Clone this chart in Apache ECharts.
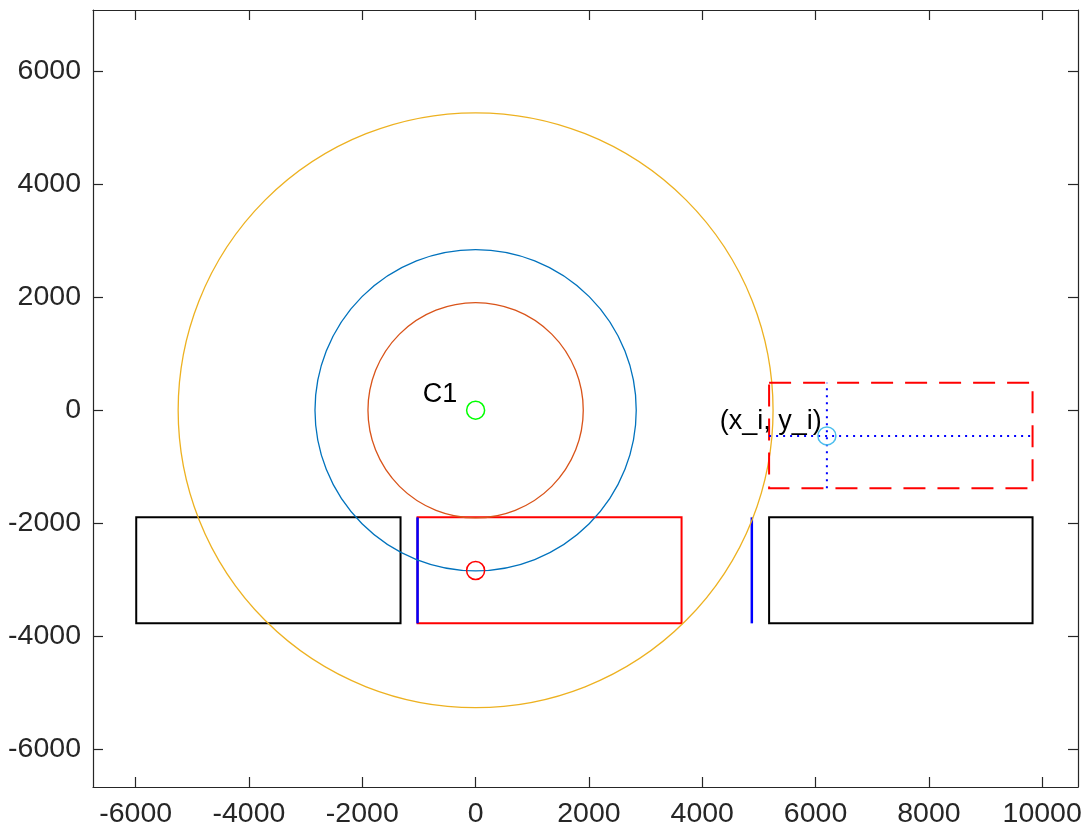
<!DOCTYPE html>
<html>
<head>
<meta charset="utf-8">
<script src="https://cdn.jsdelivr.net/npm/echarts@6/dist/echarts.min.js"></script>
<style>
  html, body { margin: 0; padding: 0; background: #ffffff; }
  #chart { width: 1090px; height: 829px; }
</style>
</head>
<body>
<div id="chart"></div>
<script>
// Axis ticks and visible window (equal scaling on both axes)
const xTicks = [-6000, -4000, -2000, 0, 2000, 4000, 6000, 8000, 10000];
const yTicks = [-6000, -4000, -2000, 0, 2000, 4000, 6000];
const xRange = [-6753, 10632];
const yRange = [-6665, 7080];

// Rings around C1
const c1 = [0, 0];
const ringRadii = [5250, 2835, 1900];
const lowPoint = [0, -2835];

// Point of interest and its search box
const pointI = [6200, -455];
const boxX = [5180, 9830];
const boxY = [-1380, 485];

// Blocks along the lower row
const blockY = [-3770, -1895];
const leftBlockX = [-5990, -1325];
const rightBlockX = [5180, 9830];
const redBlockX = [-1025, 3635];
const blueLineX = [-1025, 4875];

// Annotations
const notes = [
  { text: 'C1', at: [-935, 275] },
  { text: '(x_i, y_i)', at: [4310, -195] }
];

const AXIS = '#262626';
const FONT = '"Liberation Sans", Arial, sans-serif';
const ringColors = ['#EDB120', '#0072BD', '#D95319'];

const chart = echarts.init(document.getElementById('chart'), null, { renderer: 'canvas' });

function rectItem(color, width, dash) {
  return function (params, api) {
    const a = api.coord([api.value(0), api.value(3)]);
    const b = api.coord([api.value(2), api.value(1)]);
    return {
      type: 'rect',
      shape: { x: a[0], y: a[1], width: b[0] - a[0], height: b[1] - a[1] },
      style: { fill: 'none', stroke: color, lineWidth: width, lineDash: dash || null }
    };
  };
}

function segItem(color, width, dash) {
  return function (params, api) {
    const a = api.coord([api.value(0), api.value(1)]);
    const b = api.coord([api.value(2), api.value(3)]);
    return {
      type: 'line',
      shape: { x1: a[0], y1: a[1], x2: b[0], y2: b[1] },
      style: { stroke: color, lineWidth: width, lineDash: dash || null, fill: 'none' }
    };
  };
}

function markerSeries(point, color) {
  return {
    type: 'scatter',
    data: [point],
    symbol: 'circle',
    symbolSize: 18,
    itemStyle: { color: 'rgba(0,0,0,0)', borderColor: color, borderWidth: 1.5, opacity: 1 },
    z: 10,
    silent: true
  };
}

function axis(kind, range, ticks, position, withLabels) {
  return {
    type: 'value', min: range[0], max: range[1], position: position,
    axisLine: { show: true, onZero: false, lineStyle: { color: AXIS, width: 1.2 } },
    axisTick: { inside: true, length: 10, customValues: ticks, lineStyle: { color: AXIS, width: 1.2 } },
    axisLabel: withLabels ? {
      customValues: ticks, fontSize: 28.5, color: AXIS, fontFamily: FONT,
      margin: kind === 'x' ? 13 : 12,
      formatter: v => String(v)
    } : { show: false },
    splitLine: { show: false }
  };
}

const option = {
  animation: false,
  backgroundColor: '#ffffff',
  grid: { left: 93, right: 12, top: 10, bottom: 42, show: false },
  xAxis: [
    axis('x', xRange, xTicks, 'bottom', true),
    axis('x', xRange, xTicks, 'top', false)
  ],
  yAxis: [
    axis('y', yRange, yTicks, 'left', true),
    axis('y', yRange, yTicks, 'right', false)
  ],
  series: [
    // black blocks
    {
      type: 'custom', silent: true, z: 2,
      data: [
        [leftBlockX[0], blockY[0], leftBlockX[1], blockY[1]],
        [rightBlockX[0], blockY[0], rightBlockX[1], blockY[1]]
      ],
      renderItem: rectItem('#000000', 2)
    },
    // red block
    {
      type: 'custom', silent: true, z: 2,
      data: [[redBlockX[0], blockY[0], redBlockX[1], blockY[1]]],
      renderItem: rectItem('#FF0000', 2)
    },
    // blue vertical lines
    {
      type: 'custom', silent: true, z: 3,
      data: blueLineX.map(x => [x, blockY[0], x, blockY[1]]),
      renderItem: segItem('#0000FF', 2.5)
    },
    // rings around C1
    {
      type: 'custom', silent: true, z: 4,
      data: ringRadii.map(r => [c1[0], c1[1], r]),
      renderItem: function (params, api) {
        const c = api.coord([api.value(0), api.value(1)]);
        const r = api.size([api.value(2), 0])[0];
        return {
          type: 'circle',
          shape: { cx: c[0], cy: c[1], r: r },
          style: { fill: 'none', stroke: ringColors[params.dataIndex], lineWidth: 1.3 }
        };
      }
    },
    // dashed search box
    {
      type: 'custom', silent: true, z: 5,
      data: [[boxX[0], boxY[0], boxX[1], boxY[1]]],
      renderItem: rectItem('#FF0000', 2, [22, 12])
    },
    // dotted cross through the point
    {
      type: 'custom', silent: true, z: 5,
      data: [
        [pointI[0], boxY[0], pointI[0], boxY[1]],
        [boxX[0], pointI[1], boxX[1], pointI[1]]
      ],
      renderItem: segItem('#0000FF', 2, [2, 5])
    },
    // point markers
    markerSeries(c1, '#00FF00'),
    markerSeries(lowPoint, '#FF0000'),
    markerSeries(pointI, '#4DBEEE'),
    // annotations
    {
      type: 'custom', silent: true, z: 12,
      data: notes.map(n => [n.at[0], n.at[1]]),
      renderItem: function (params, api) {
        const p = api.coord([api.value(0), api.value(1)]);
        return {
          type: 'text',
          x: p[0], y: p[1],
          style: {
            text: notes[params.dataIndex].text,
            font: '27px ' + FONT,
            fill: '#000000',
            align: 'left',
            verticalAlign: 'middle'
          }
        };
      }
    }
  ]
};

chart.setOption(option);
</script>
</body>
</html>
